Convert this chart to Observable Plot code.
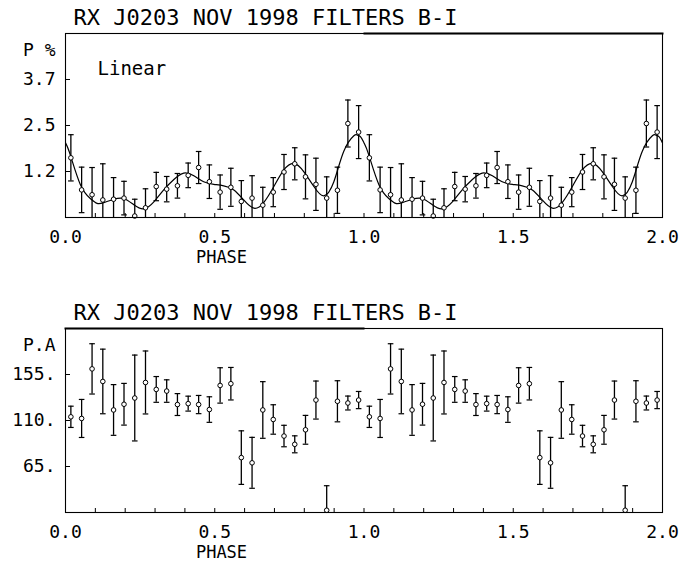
<!DOCTYPE html>
<html>
<head>
<meta charset="utf-8">
<script src="https://cdn.jsdelivr.net/npm/d3@7"></script>
<script src="https://cdn.jsdelivr.net/npm/@observablehq/plot@0.6"></script>
<style>
  html, body { margin: 0; padding: 0; background: #fff; }
  #chart svg { display: block; }
</style>
</head>
<body>
<div id="chart"></div>
<script>
// ---------- data ----------
const titleText = "RX J0203 NOV 1998 FILTERS B-I";
const fitLabel = "Linear";
const xLabel = "PHASE";
const pLabel = "P %";
const paLabel = "P.A";

// phase bins (one cycle, plotted twice)
const phases = [0.018, 0.054, 0.089, 0.125, 0.161, 0.196, 0.232, 0.268, 0.304, 0.339,
                0.375, 0.411, 0.446, 0.482, 0.518, 0.554, 0.589, 0.625, 0.661, 0.696,
                0.732, 0.768, 0.804, 0.839, 0.875, 0.911, 0.946, 0.982];
const cycles = [0, 1];

// linear polarization (%) and errors
const polP    = [1.60, 0.74, 0.61, 0.47, 0.49, 0.52, 0.04, 0.26, 0.83, 0.76,
                 0.85, 1.13, 1.34, 0.96, 0.68, 0.81, 0.43, 0.52, 0.33, 0.68,
                 1.22, 1.44, 1.09, 0.89, 0.52, 0.73, 2.52, 2.29];
const polPErr = [0.62, 0.61, 0.73, 0.97, 0.58, 0.45, 0.45, 0.51, 0.38, 0.34,
                 0.33, 0.33, 0.43, 0.45, 0.46, 0.51, 0.56, 0.60, 0.48, 0.39,
                 0.47, 0.43, 0.59, 0.70, 0.57, 0.62, 0.63, 0.71];

// position angle (deg) and errors
const posAngle    = [113.6, 112.0, 160.5, 148.2, 120.3, 125.9, 132.0, 147.2, 140.4, 138.8,
                     125.6, 126.5, 125.6, 120.7, 144.3, 146.0, 73.7, 68.6, 120.3, 111.0,
                     94.8, 86.7, 100.9, 130.0, 22.2, 128.8, 127.1, 130.0];
const posAngleErr = [10.4, 18.6, 24.6, 31.6, 24.8, 20.4, 42.0, 30.8, 12.6, 11.0,
                     10.7, 7.3, 8.9, 12.5, 17.3, 15.9, 26.2, 24.9, 27.7, 14.4,
                     10.5, 8.3, 14.1, 18.6, 24.0, 20.1, 6.8, 8.4];

// smooth fit curve, knots (one cycle)
const fitPhase = [0.000, 0.016, 0.050, 0.083, 0.106, 0.128, 0.162, 0.195, 0.229, 0.262,
                  0.296, 0.329, 0.363, 0.396, 0.430, 0.463, 0.497, 0.530, 0.564, 0.597,
                  0.631, 0.664, 0.698, 0.731, 0.765, 0.798, 0.832, 0.865, 0.899, 0.932,
                  0.966, 0.977, 0.988];
const fitP     = [2.00, 1.68, 0.88, 0.51, 0.38, 0.40, 0.49, 0.51, 0.34, 0.23,
                  0.42, 0.74, 1.02, 1.19, 1.12, 0.96, 0.89, 0.85, 0.74, 0.47,
                  0.25, 0.40, 0.83, 1.27, 1.45, 1.23, 0.83, 0.58, 0.96, 1.77,
                  2.19, 2.21, 2.17];

// axes
const phaseDomain = [0, 2];
const phaseTicks = [0, 0.5, 1, 1.5, 2];
const phaseTickLabels = ["0.0", "0.5", "1.0", "1.5", "2.0"];
const phaseMinorTicks = [0.1, 0.2, 0.3, 0.4, 0.5, 0.6, 0.7, 0.8, 0.9, 1.0,
                         1.1, 1.2, 1.3, 1.4, 1.5, 1.6, 1.7, 1.8, 1.9];
const pDomain = [0, 4.9333];
const pTicks = [1.2333, 2.4667, 3.7];
const pTickLabels = ["1.2", "2.5", "3.7"];
const paDomain = [20, 200];
const paTicks = [65, 110, 155];
const paTickLabels = ["65.", "110.", "155."];

// ---------- tables ----------
const pRows = cycles.flatMap(c => phases.map((ph, i) => ({phase: ph + c, v: polP[i], e: polPErr[i]})));
const paRows = cycles.flatMap(c => phases.map((ph, i) => ({phase: ph + c, v: posAngle[i], e: posAngleErr[i]})));
const fitRows = cycles.flatMap(c => fitPhase.map((ph, i) => ({phase: ph + c, v: fitP[i]})))
  .concat([{phase: phaseDomain[1], v: fitP[0]}]);

// ---------- drawing ----------
const W = 695;
const FONT = "DejaVu Sans Mono, monospace";
const ink = {fill: "black"};
const capSymbol = {
  draw(ctx, size) {
    const r = Math.sqrt(size / Math.PI);
    ctx.moveTo(-r, 0);
    ctx.lineTo(r, 0);
  }
};
const fmtFrom = (vals, labels) => { const m = new Map(vals.map((v, i) => [v, labels[i]])); return d => m.get(d); };

function panel({rows, yDomain, yTicks, yTickLabels, yLabel, height, marginTop, marginBottom, boldTop, fit}) {
  const marks = [
    Plot.tickY(yTicks, {y: d => d, insetRight: 592, stroke: "black", strokeWidth: 1}),
    Plot.tickX(phaseMinorTicks, {x: d => d, insetTop: 180, stroke: "black", strokeWidth: 1}),
    Plot.ruleX(rows, {x: "phase", y1: d => d.v - d.e, y2: d => d.v + d.e, stroke: "black", strokeWidth: 1.3, clip: true}),
    Plot.dot(rows, {x: "phase", y: d => d.v - d.e, symbol: capSymbol, r: 2.8, fill: "none", stroke: "black", strokeWidth: 1.2, clip: true}),
    Plot.dot(rows, {x: "phase", y: d => d.v + d.e, symbol: capSymbol, r: 2.8, fill: "none", stroke: "black", strokeWidth: 1.2, clip: true}),
  ];
  if (fit) {
    marks.push(Plot.line(fitRows, {x: "phase", y: "v", curve: "natural", stroke: "black", strokeWidth: 1.2, clip: true}));
    marks.push(Plot.text([fitLabel], {text: d => d, frameAnchor: "top-left", dx: 32, dy: 28, textAnchor: "start", fontSize: 19, letterSpacing: 1.2, ...ink}));
  }
  marks.push(
    Plot.dot(rows, {x: "phase", y: "v", r: 2.3, fill: "white", stroke: "black", strokeWidth: 1}),
    Plot.frame({stroke: "black", strokeWidth: 1.1}),
    boldTop,
    Plot.axisY({ticks: yTicks, tickFormat: fmtFrom(yTicks, yTickLabels), tickSize: 0, tickPadding: 10, fontSize: 18, label: null, ...ink}),
    Plot.axisX({ticks: phaseTicks, tickFormat: fmtFrom(phaseTicks, phaseTickLabels), tickSize: 0, tickPadding: 13, fontSize: 18, label: null, ...ink}),
    Plot.text([yLabel], {text: d => d, frameAnchor: "top-left", dx: -10, dy: 10, textAnchor: "end", fontSize: 18, ...ink}),
    Plot.text([xLabel], {text: d => d, frameAnchor: "bottom-left", dx: 156, dy: 45, textAnchor: "middle", fontSize: 17, ...ink}),
    Plot.text([titleText], {text: d => d, frameAnchor: "top-left", dx: 8, dy: -24, textAnchor: "start", fontSize: 22, letterSpacing: 0.7, ...ink})
  );
  return Plot.plot({
    width: W,
    height,
    marginTop,
    marginBottom,
    marginLeft: 65,
    marginRight: 33,
    style: {fontFamily: FONT, fontSize: "18px", color: "black", background: "white", overflow: "visible"},
    x: {domain: phaseDomain},
    y: {domain: yDomain},
    marks
  });
}

const topPanel = panel({
  rows: pRows, yDomain: pDomain, yTicks: pTicks, yTickLabels: pTickLabels, yLabel: pLabel,
  height: 283, marginTop: 33, marginBottom: 66, fit: true,
  boldTop: Plot.frame({anchor: "top", insetLeft: 299, stroke: "black", strokeWidth: 2})
});
const bottomPanel = panel({
  rows: paRows, yDomain: paDomain, yTicks: paTicks, yTickLabels: paTickLabels, yLabel: paLabel,
  height: 284, marginTop: 45, marginBottom: 55, fit: false,
  boldTop: Plot.frame({anchor: "top", insetRight: 299, stroke: "black", strokeWidth: 2})
});
document.getElementById("chart").append(topPanel, bottomPanel);
</script>
</body>
</html>
